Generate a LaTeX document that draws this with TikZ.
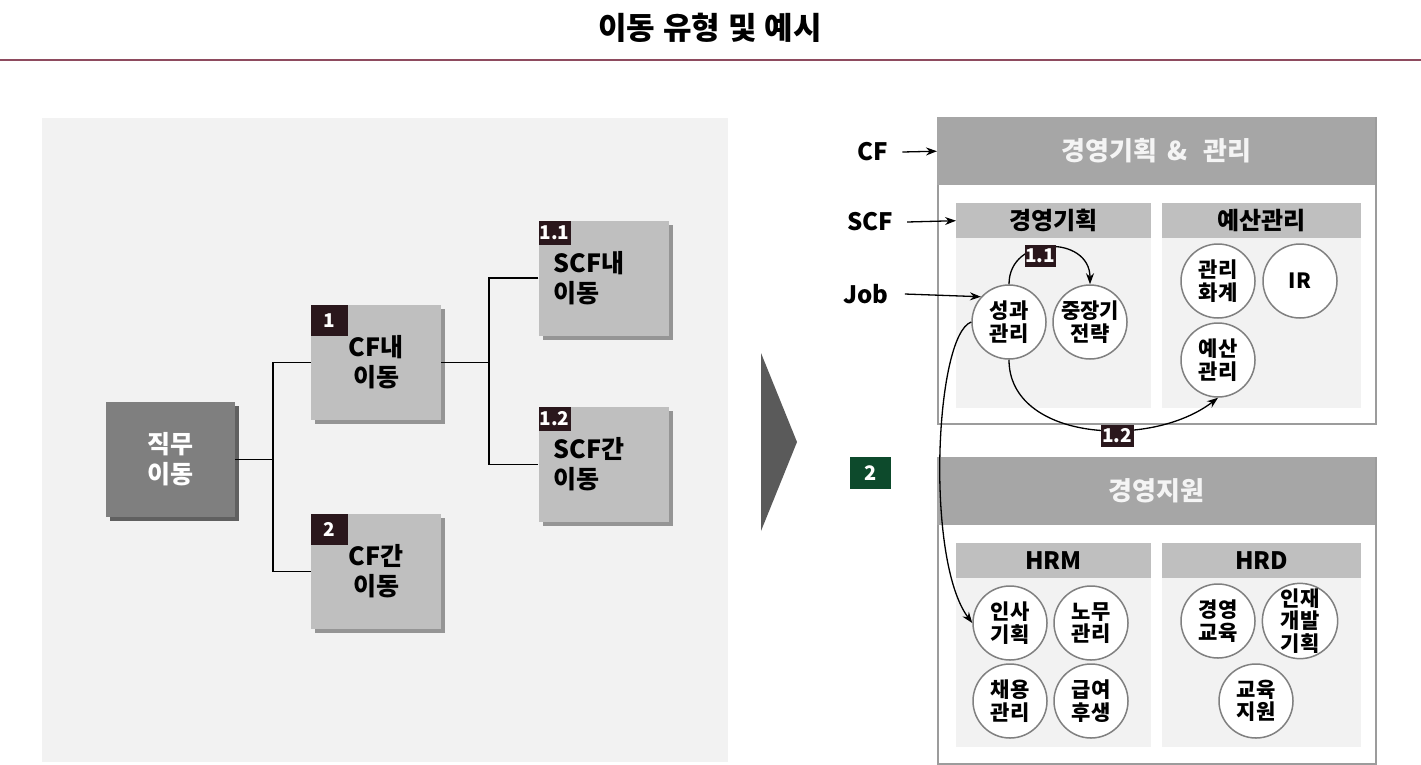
\documentclass[tikz,border=0pt]{standalone}
\usepackage{fontspec}
\setmainfont{Noto Sans CJK KR}
\usetikzlibrary{arrows.meta,shadows}
\definecolor{panel}{HTML}{F2F2F2}
\definecolor{lbox}{HTML}{BFBFBF}
\definecolor{dbox}{HTML}{7F7F7F}
\definecolor{hdr}{HTML}{A6A6A6}
\definecolor{subbody}{HTML}{F2F2F2}
\definecolor{badgec}{HTML}{2A171C}
\definecolor{grn}{HTML}{0D4A2C}
\definecolor{tline}{HTML}{8E4B5F}
\definecolor{trigray}{HTML}{5A5A5A}
\definecolor{circc}{HTML}{808080}
\definecolor{bord}{HTML}{9C9C9C}
\definecolor{hdrtxt}{HTML}{F4F4F4}
\newcommand{\fs}[2]{\fontsize{#1}{#2}\selectfont\bfseries}
\begin{document}
\begin{tikzpicture}[x=1pt,y=-1pt,
  lb/.style={fill=lbox, inner sep=0pt, minimum width=130pt, minimum height=115pt, align=center,
    font=\fs{25}{30}, drop shadow={shadow xshift=4pt, shadow yshift=-4pt, opacity=.38, fill=black}},
  lbl/.style={lb, align=left, text width=100pt, inner xsep=15pt},
  db/.style={fill=dbox, text=white, inner sep=0pt, minimum width=129pt, minimum height=115pt, align=center,
    font=\fs{25}{30}, drop shadow={shadow xshift=4pt, shadow yshift=-4pt, opacity=.6, fill=black}},
  bdg/.style={fill=badgec, text=white, inner sep=0pt, font=\fs{19}{20}, anchor=north west},
  conn/.style={line width=1.8pt, black},
  side/.style={font=\fs{24}{26}, inner sep=0pt},
  arr/.style={line width=1.3pt, black, -{Stealth[length=11pt,width=8pt]}},
  outer/.style={draw=bord, line width=1.8pt, fill=white, inner sep=0pt, anchor=north west, minimum width=438pt},
  bighdr/.style={fill=hdr, text=hdrtxt, inner sep=0pt, anchor=north west, minimum width=438pt, minimum height=68pt, font=\fs{26}{28}},
  subhdr/.style={fill=lbox, inner sep=0pt, anchor=north west, minimum height=35pt, font=\fs{24}{26}},
  subbox/.style={fill=subbody, inner sep=0pt, anchor=north west},
  cir/.style={circle, draw=circc, line width=1.5pt, fill=white, minimum size=74pt, inner sep=0pt, align=center, font=\fs{21}{22.5}}
]
\useasboundingbox (0,0) rectangle (1421,764);

% title
\node[font=\fs{31}{34}] (title) at (710,28) {이동\hspace{8pt}유형\hspace{8pt}및\hspace{8pt}예시};
\draw[tline, line width=2pt] (0,60) -- (1421,60);

% left panel
\node[fill=panel, inner sep=0pt, anchor=north west, minimum width=686pt, minimum height=644pt] (panel) at (42,118) {};

\node[db] (jikmu) at (170.5,459.5) {직무\\이동};
\node[lb] (cfnae) at (376,362.5) {CF내\\이동};
\node[lb] (cfgan) at (376,571.5) {CF간\\이동};
\node[lbl] (scfnae) at (603.5,278) {SCF내\\이동};
\node[lbl] (scfgan) at (603.5,464.5) {SCF간\\이동};

\node[bdg, minimum width=37pt, minimum height=31pt] (b1) at (cfnae.north west) {1};
\node[bdg, minimum width=37pt, minimum height=31pt] (b2) at (cfgan.north west) {2};
\node[bdg, minimum width=32pt, minimum height=24pt] (b11) at (scfnae.north west) {1.1};
\node[bdg, minimum width=32pt, minimum height=24pt] (b12) at (scfgan.north west) {1.2};

\coordinate (bus1) at (273,0);
\coordinate (bus2) at (489,0);
\draw[conn] (jikmu.east) -- (jikmu.east -| bus1);
\draw[conn] (cfnae.west) -- (cfnae.west -| bus1) -- (cfgan.west -| bus1) -- (cfgan.west);
\draw[conn] (cfnae.east) -- (cfnae.east -| bus2);
\draw[conn] (scfnae.west) -- (scfnae.west -| bus2) -- (scfgan.west -| bus2) -- (scfgan.west);

% big arrow
\fill[trigray] (761,353) -- (797,442) -- (761,531) -- cycle;

% right: top box
\node[outer, minimum height=306pt] (cfbox) at (937,117) {};
\node[bighdr] (cfhdr) at (937,117) {경영기획\hspace{10pt}\&\hspace{16pt}관리};
\node[subhdr, minimum width=195pt] (kyhdr) at (956,203) {경영기획};
\node[subbox, minimum width=195pt, minimum height=170pt] (kybody) at (956,238) {};
\node[subhdr, minimum width=199pt] (yshdr) at (1162,203) {예산관리};
\node[subbox, minimum width=199pt, minimum height=170pt] (ysbody) at (1162,238) {};

% right: bottom box
\node[outer, minimum height=306pt] (supbox) at (937,457) {};
\node[bighdr] (suphdr) at (937,457) {경영지원};
\node[subhdr, minimum width=195pt] (hrmhdr) at (956,543) {HRM};
\node[subbox, minimum width=195pt, minimum height=169pt] (hrmbody) at (956,578) {};
\node[subhdr, minimum width=199pt] (hrdhdr) at (1162,543) {HRD};
\node[subbox, minimum width=199pt, minimum height=169pt] (hrdbody) at (1162,578) {};

% circles
\node[cir] (seong) at (1009,322) {성과\\관리};
\node[cir] (jung) at (1090,322) {중장기\\전략};
\node[cir] (gwan) at (1218,281) {관리\\화계};
\node[cir] (ir) at (1300,281) {IR};
\node[cir] (yesan) at (1218,360) {예산\\관리};

\node[cir] (insa) at (1010,623) {인사\\기획};
\node[cir] (nomu) at (1091,623) {노무\\관리};
\node[cir] (chae) at (1010,701) {채용\\관리};
\node[cir] (geup) at (1091,701) {급여\\후생};
\node[cir] (gyeong) at (1218,621) {경영\\교육};
\node[cir] (injae) at (1300,621) {인재\\개발\\기획};
\node[cir] (gyo) at (1256,701) {교육\\지원};

% side labels
\node[side] (cflab) at (873,152) {CF};
\node[side] (scflab) at (870,222) {SCF};
\node[side] (joblab) at (866,294) {Job};
\node[fill=grn, text=white, inner sep=0pt, minimum width=41pt, minimum height=32pt, font=\fs{20}{22}] (g2) at (870.5,473) {2};

\draw[arr] ([xshift=14pt]cflab.east) -- (cfhdr.west);
\draw[arr] ([xshift=14pt]scflab.east) -- (kyhdr.west);
\draw[arr] ([xshift=16pt]joblab.east) -- (seong.138);

% flows
\draw[arr] (seong.north) .. controls (1009,235) and (1090,235) .. (jung.north);
\draw[arr] (seong.south) .. controls (1009,440) and (1150,450) .. (yesan.south);
\draw[arr] (seong.west) .. controls (935,335) and (925,560) .. (insa.west);

\node[fill=badgec, text=white, inner sep=0pt, minimum width=31pt, minimum height=22pt, font=\fs{19}{20}] (f11) at (1040,256) {1.1};
\node[fill=badgec, text=white, inner sep=0pt, minimum width=33pt, minimum height=22pt, font=\fs{19}{20}] (f12) at (1117,436) {1.2};
\end{tikzpicture}
\end{document}
